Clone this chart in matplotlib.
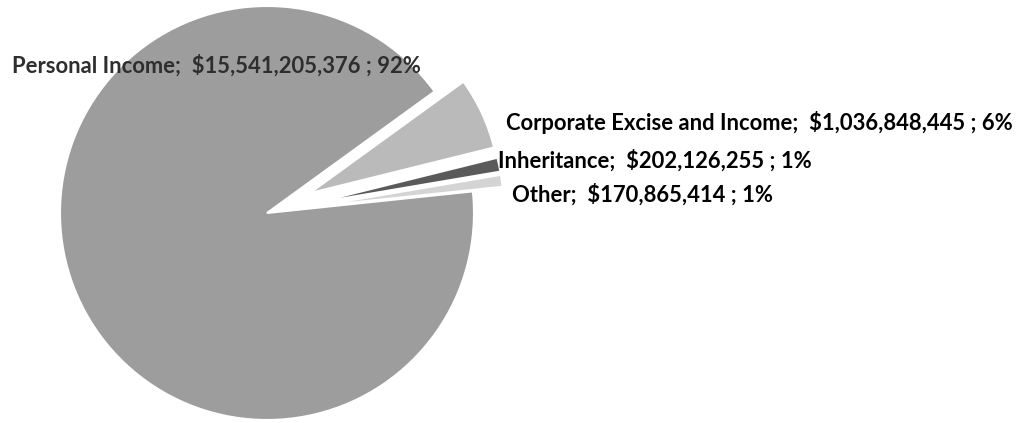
import matplotlib
matplotlib.use("Agg")
import matplotlib.pyplot as plt

categories = ["Personal Income", "Corporate Excise and Income", "Inheritance", "Other"]
values = [15541205376, 1036848445, 202126255, 170865414]
colors = ["#9d9d9d", "#bababa", "#5a5a5a", "#d4d4d4"]
text_colors = ["#2e2e2e", "black", "black", "black"]

W, H = 1017, 423
fig = plt.figure(figsize=(W / 100, H / 100), dpi=100)
ax = fig.add_axes([0, 0, 1, 1])

cx, cy = 267, H - 213
wedges, _ = ax.pie(values, center=(cx, cy), radius=207, startangle=6,
                   counterclock=False, explode=[0, 47, 47, 47],
                   colors=colors,
                   wedgeprops=dict(edgecolor="white", linewidth=1.5))
for w in wedges[1:]:
    w.set_radius(190)

ax.set_xlim(0, W)
ax.set_ylim(0, H)
ax.set_aspect("equal")
ax.axis("off")

total = sum(values)
label_pos = [(12, 66), (506, 122), (498, 161), (512, 195)]
for cat, val, (lx, ly), tc in zip(categories, values, label_pos, text_colors):
    pct = round(100 * val / total)
    ax.text(lx, H - ly, f"{cat};  ${val:,} ; {pct}%", ha="left", va="center",
            fontsize=15.8, fontweight="bold", family="Lato", color=tc)

fig.savefig("out.png", dpi=100)
